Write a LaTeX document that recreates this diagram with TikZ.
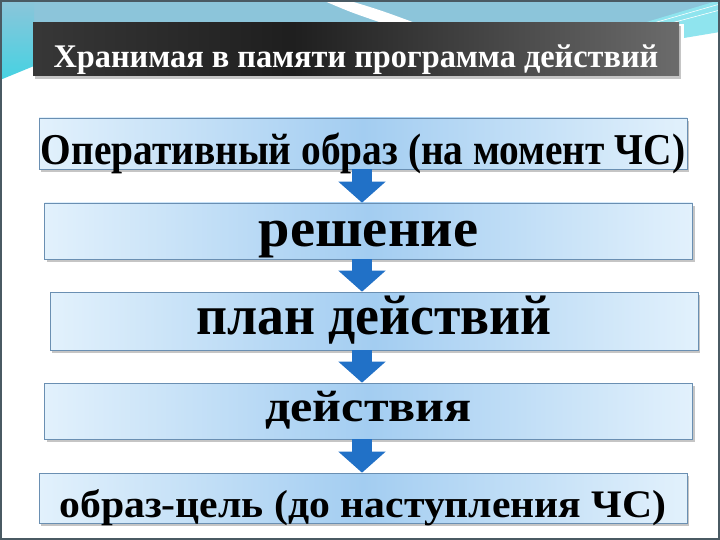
\documentclass[tikz,border=0pt]{standalone}
\usepackage{fontspec}
\usepackage{graphicx}
\setmainfont{Liberation Serif}
\usetikzlibrary{arrows.meta,shadows}
\definecolor{boxedge}{HTML}{E2F1FC}
\definecolor{boxmid}{HTML}{A3CDF1}
\definecolor{boxline}{HTML}{6A8FB2}
\definecolor{arrowblue}{HTML}{2171C7}
\definecolor{bandblue}{HTML}{8CC5DA}
\definecolor{bandcyan}{HTML}{45D2E2}
\definecolor{framegray}{HTML}{4A5A63}
\pgfdeclarehorizontalshading{titlebar}{100bp}{color(0bp)=(gray!70);
  color(12bp)=(black!72); color(45bp)=(black!88); color(78bp)=(black!55);
  color(100bp)=(gray!55)}
\newcommand\stretchtext[2]{\scalebox{#1}[1]{#2}}

\begin{document}
\begin{tikzpicture}
  [x=1pt,y=-1pt,
   stage/.style={draw=boxline,line width=.6pt,left color=boxedge,right color=boxedge,
     middle color=boxmid,minimum width=648pt,inner sep=0pt,text depth=0pt,
     drop shadow={shadow xshift=2pt,shadow yshift=-3pt,opacity=.45}},
   headline/.style={shading=titlebar,text=white,minimum width=646pt,minimum height=53pt,
     inner sep=0pt,text height=37pt,text depth=0pt,
     font=\bfseries\fontsize{33}{33}\selectfont,
     drop shadow={shadow xshift=2pt,shadow yshift=-3pt,opacity=.45}},
   flow/.style={arrowblue,line width=20pt,-{Triangle[width=46pt,length=21pt]}}]
  \useasboundingbox (0,0) rectangle (720,540);
  \fill[white] (0,0) rectangle (720,540);

  % slide background
  \fill[bandblue] (0,0) -- (720,0) -- (720,8) -- (684,24) -- (0,24) -- cycle;
  \shade[top color=bandblue,bottom color=bandcyan] (0,0) -- (34,0) -- (34,66) -- (0,80) -- cycle;
  \fill[bandcyan!60] (640,24) -- (720,0) -- (720,32) -- (684,38) -- (684,24) -- cycle;
  \fill[white] (322,0) -- (347,0) .. controls (380,10) .. (418,24)
    -- (385,24) .. controls (350,12) .. (322,0);
  \draw[white,line width=.6pt] (650,24) -- (720,4) (660,26) -- (720,10);
  \draw[framegray,line width=2pt] (1,1) rectangle (719,539);

  \coordinate (ax) at (362,0);

  \node[headline] (t) at (356,49.5) {\stretchtext{.98}{Хранимая в памяти программа действий}};
  \node[stage,minimum height=51pt,text height=43pt,font=\bfseries\fontsize{44}{44}\selectfont]
    (n1) at (363,143.5) {\stretchtext{.895}{Оперативный образ (на момент ЧС)}};
  \node[stage,minimum height=56pt,text height=32pt,font=\bfseries\fontsize{54}{54}\selectfont]
    (n2) at (368.5,231) {\stretchtext{1.045}{решение}};
  \node[stage,minimum height=58pt,text height=26pt,font=\bfseries\fontsize{56}{56}\selectfont]
    (n3) at (374,321) {\stretchtext{.96}{план действий}};
  \node[stage,minimum height=56pt,text height=20pt,font=\bfseries\fontsize{44}{44}\selectfont]
    (n4) at (368.5,411) {\stretchtext{1.14}{действия}};
  \node[stage,minimum height=50pt,text height=38pt,font=\bfseries\fontsize{39}{39}\selectfont]
    (n5) at (363,498) {\stretchtext{1.07}{образ-цель (до наступления ЧС)}};

  \draw[flow] (n1.south -| ax) -- (n2.north -| ax);
  \draw[flow] (n2.south -| ax) -- (n3.north -| ax);
  \draw[flow] (n3.south -| ax) -- (n4.north -| ax);
  \draw[flow] (n4.south -| ax) -- (n5.north -| ax);
\end{tikzpicture}
\end{document}
